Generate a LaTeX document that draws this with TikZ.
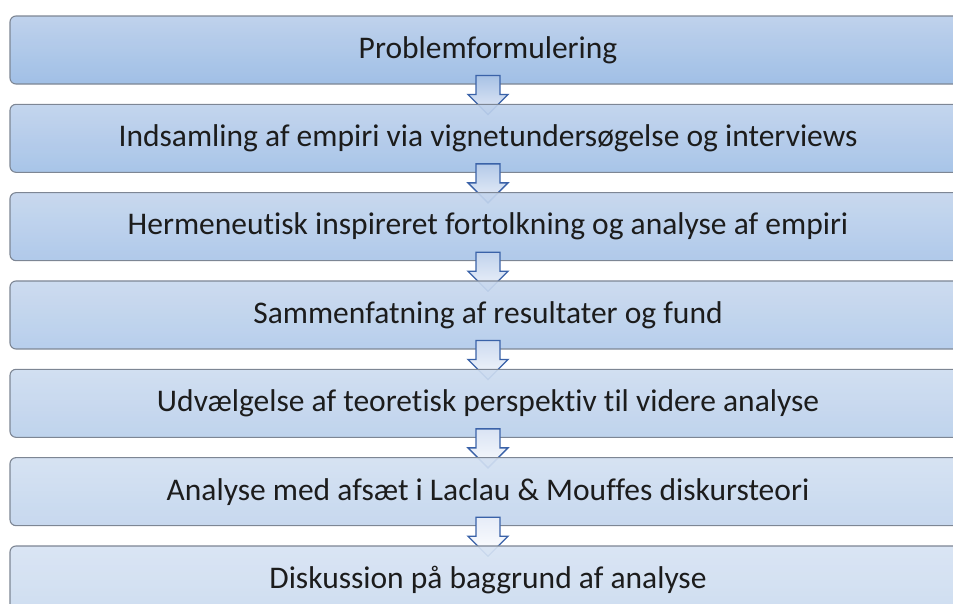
\documentclass[tikz,border=0pt]{standalone}
\usepackage{fontspec}
\setmainfont{Carlito}[Ligatures=NoCommon]
\usetikzlibrary{calc}

\definecolor{boxline}{RGB}{125,134,148}
\definecolor{arrowline}{RGB}{58,98,168}
\definecolor{textgray}{RGB}{28,28,28}
\definecolor{topdark}{RGB}{186,206,234}
\definecolor{botdark}{RGB}{152,186,228}
\definecolor{toplight}{RGB}{215,227,243}
\definecolor{botlight}{RGB}{202,218,239}
\definecolor{arrowdark}{RGB}{168,194,229}
\definecolor{arrowlight}{RGB}{230,236,248}

\tikzset{
  stage/.style={draw=boxline, line width=1.1pt, rounded corners=6pt,
    minimum width=956pt, minimum height=68pt, inner sep=0pt,
    fill opacity=0.92, text opacity=1, text=textgray,
    font=\fontsize{31.5}{34}\selectfont},
  downarrow/.style={draw=arrowline, line width=1.3pt, line join=miter}
}

\begin{document}
\begin{tikzpicture}[x=1pt, y=-1pt]
    \useasboundingbox (0,0) rectangle (953,603);
    % stages top to bottom, each followed by its arrow
    \foreach \i/\txt in {1/Problemformulering,
        2/Indsamling af empiri via vignetundersøgelse og interviews,
        3/Hermeneutisk inspireret fortolkning og analyse af empiri,
        4/Sammenfatning af resultater og fund,
        5/Udvælgelse af teoretisk perspektiv til videre analyse,
        6/Analyse med afsæt i Laclau \& Mouffes diskursteori,
        7/Diskussion på baggrund af analyse} {
        \pgfmathtruncatemacro{\p}{100-100*(\i-1)/6}
        \pgfmathtruncatemacro{\q}{100-100*(\i-1)/5}
        \node[stage, top color=topdark!\p!toplight, bottom color=botdark!\p!botlight]
            (b\i) at (488,{50+88.33*(\i-1)}) {\txt};
        \ifnum\i<7
        \draw[downarrow, top color=arrowdark!\q!arrowlight, bottom color=arrowlight!\q!white]
            ($(b\i.south)+(-12,-9)$) -- ++(24,0) -- ++(0,19) -- ++(8,0)
            -- ++(-20,20) -- ++(-20,-20) -- ++(8,0) -- cycle;
        \fi
    }
\end{tikzpicture}
\end{document}
